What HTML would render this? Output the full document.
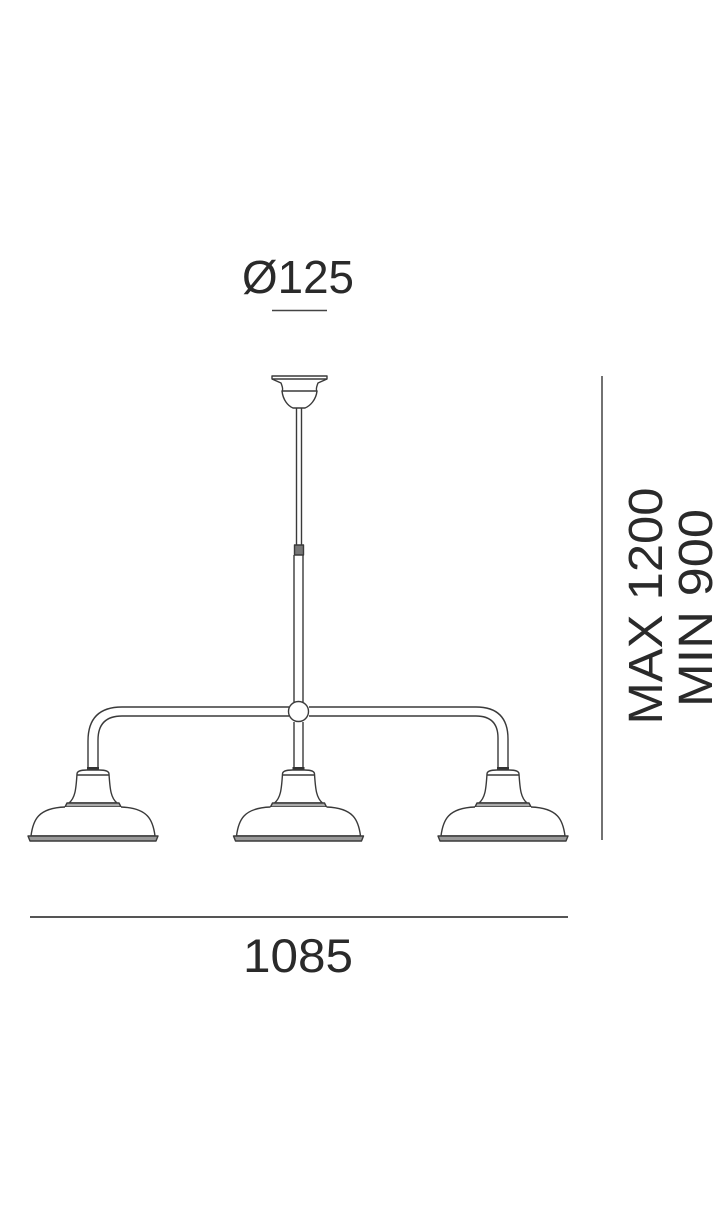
<!DOCTYPE html>
<html><head><meta charset="utf-8"><style>
html,body{margin:0;padding:0;background:#fff;}
svg{display:block;}
text{font-family:"Liberation Sans",sans-serif;fill:#2a2a2a;}
</style></head><body>
<svg width="726" height="1212" viewBox="0 0 726 1212" xmlns="http://www.w3.org/2000/svg">
<g fill="none" stroke="#3a3a3a" stroke-width="1.4" stroke-linejoin="round">
<!-- canopy -->
<path d="M272 376 L327 376 L327 379 L318 383 C316 388 316 390 317 391 L282 391 C283 390 283 388 281 383 L272 379 Z" fill="#fff"/>
<path d="M282 391 C283 400 288 406 293 408 L305 408 C310 406 316 400 317 391"/>
<line x1="272" y1="379" x2="327" y2="379"/>
<!-- upper rod -->
<line x1="296.5" y1="408" x2="296.5" y2="545"/>
<line x1="301.5" y1="408" x2="301.5" y2="545"/>
<rect x="294.5" y="545" width="9" height="10" fill="#777"/>
<line x1="294" y1="555" x2="294" y2="702"/>
<line x1="303" y1="555" x2="303" y2="702"/>
<line x1="294" y1="722" x2="294" y2="770"/>
<line x1="303" y1="722" x2="303" y2="770"/>
<!-- arm -->
<path d="M289 707 L122 707 Q88 707 88 741 L88 770"/>
<path d="M289 716 L122 716 Q98 716 98 740 L98 770"/>
<path d="M309 707 L476 707 Q508 707 508 739 L508 770"/>
<path d="M309 716 L476 716 Q498 716 498 738 L498 770"/>
<circle cx="298.5" cy="711.5" r="10" fill="#fff"/>
</g>
<!-- shades -->
<defs>
<g id="shade" fill="none" stroke="#3a3a3a" stroke-width="1.4" stroke-linejoin="round">
<rect x="-6" y="767" width="12" height="4" fill="#333" stroke="none"/>
<path d="M-16 774 Q-16 770 -6 770 L6 770 Q16 770 16 774 C17 790 18 798 24 803 L-24 803 C-18 798 -17 790 -16 774 Z" fill="#fff"/>
<line x1="-16" y1="775" x2="16" y2="775"/>
<path d="M-26 803 L26 803 L28 807 L-28 807 Z" fill="#aaa"/>
<path d="M-28 807 C-55 808 -60 820 -62 836 L62 836 C60 820 55 808 28 807" fill="#fff"/>
<path d="M-65 836 L65 836 L63 841 L-63 841 Z" fill="#999"/>
</g>
</defs>
<use href="#shade" x="93"/>
<use href="#shade" x="298.5"/>
<use href="#shade" x="503"/>
<!-- dimensions -->
<line x1="272" y1="310.5" x2="327" y2="310.5" stroke="#444" stroke-width="1.5"/>
<text x="298" y="293" font-size="46" text-anchor="middle" textLength="112" lengthAdjust="spacingAndGlyphs">Ø125</text>
<line x1="30" y1="917" x2="568" y2="917" stroke="#555" stroke-width="2"/>
<text x="298" y="972" font-size="47" text-anchor="middle" textLength="110" lengthAdjust="spacingAndGlyphs">1085</text>
<line x1="602" y1="376" x2="602" y2="840" stroke="#444" stroke-width="1.5"/>
<text transform="translate(662,606) rotate(-90)" font-size="48" text-anchor="middle" textLength="237" lengthAdjust="spacingAndGlyphs">MAX 1200</text>
<text transform="translate(712,608) rotate(-90)" font-size="48" text-anchor="middle" textLength="198" lengthAdjust="spacingAndGlyphs">MIN 900</text>
</svg>
</body></html>
